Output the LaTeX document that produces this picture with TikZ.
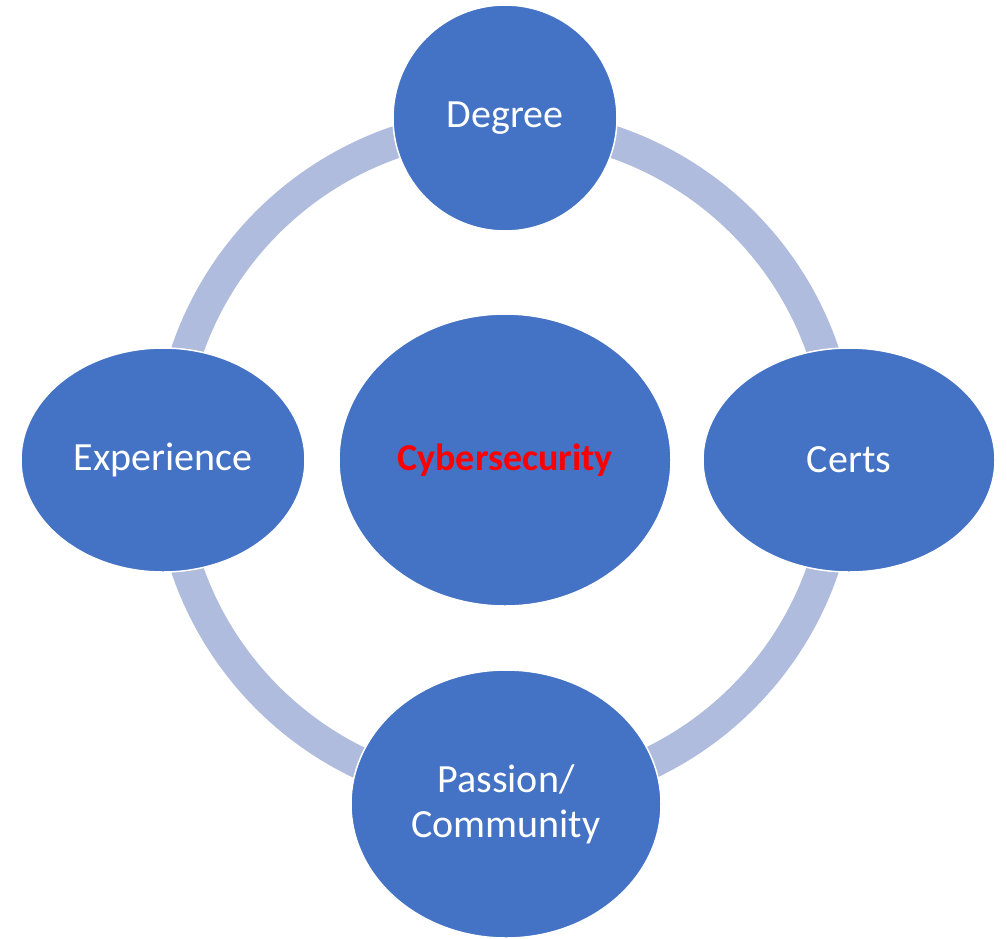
\documentclass[tikz,border=0pt]{standalone}
\usepackage{fontspec}
\setmainfont{Carlito}
\usetikzlibrary{shapes.geometric}
\definecolor{nodeblue}{HTML}{4472C4}
\definecolor{ringblue}{HTML}{AFBCDD}
\definecolor{cyred}{HTML}{FF0000}
\begin{document}
\begin{tikzpicture}[x=1pt,y=-1pt,
  blob/.style={ellipse, fill=nodeblue, draw=white, line width=1.5pt, inner sep=0pt,
    text=white, font=\fontsize{40}{45}\selectfont, align=center},
  ring/.style={draw=ringblue, line width=32pt}]
\useasboundingbox (0,0) rectangle (1007,938);
\draw[ring] (505,460) circle[radius=336pt];
\node[blob, minimum width=224pt, minimum height=226pt] (degree) at (505,118) {Degree};
\node[blob, minimum width=292pt, minimum height=224pt] (certs) at (849,460) {Certs};
\node[blob, minimum width=284pt, minimum height=224pt] (exp) at (163,460) {Experience};
\node[blob, minimum width=310pt, minimum height=268pt] (passion) at (506,804) {Passion/\\Community};
\node[blob, minimum width=332pt, minimum height=292pt, text=cyred, font=\fontsize{38}{45}\selectfont\bfseries] (cyber) at (505,460) {Cybersecurity};
\end{tikzpicture}
\end{document}
